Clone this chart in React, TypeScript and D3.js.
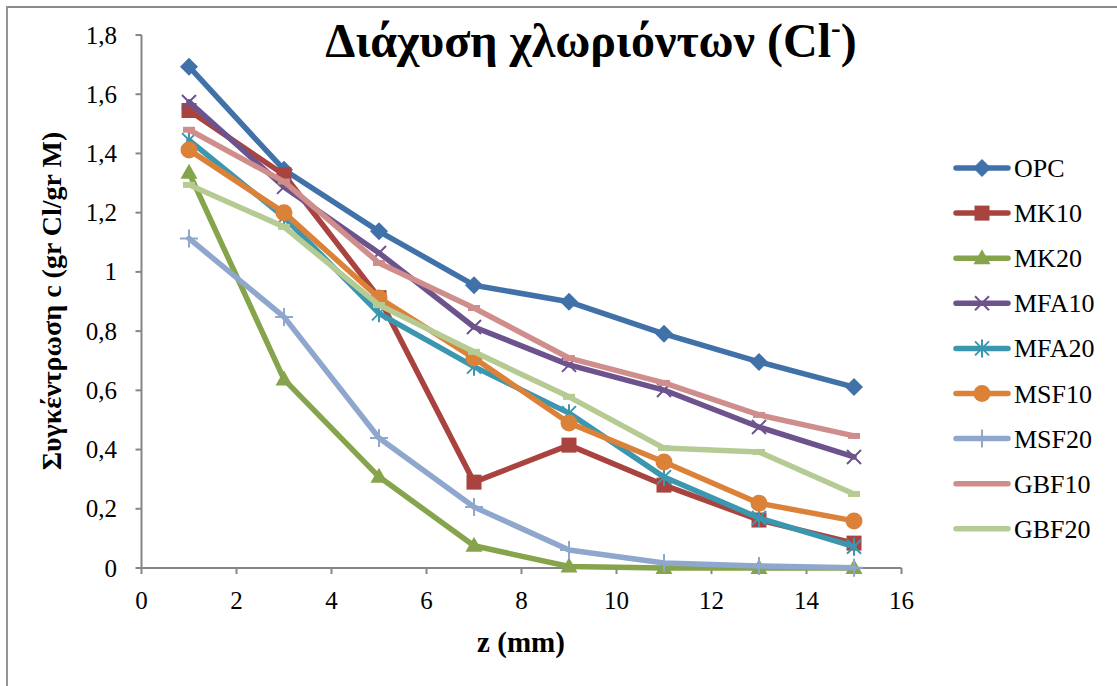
import React from 'react';
import * as d3 from 'd3';

const W = 1117;
const H = 686;
const FONT = '"Liberation Serif", "Times New Roman", serif';
const AXIS_COLOR = '#868686';

// depth z (mm)
const zValues = [1, 3, 5, 7, 9, 11, 13, 15];

const seriesNames = ['OPC', 'MK10', 'MK20', 'MFA10', 'MFA20', 'MSF10', 'MSF20', 'GBF10', 'GBF20'];
const opc = [1.693, 1.345, 1.137, 0.955, 0.899, 0.791, 0.696, 0.611];
const mk10 = [1.545, 1.328, 0.913, 0.29, 0.415, 0.28, 0.162, 0.084];
const mk20 = [1.335, 0.637, 0.308, 0.075, 0.005, 0, 0, 0];
const mfa10 = [1.574, 1.287, 1.064, 0.814, 0.686, 0.601, 0.476, 0.375];
const mfa20 = [1.445, 1.185, 0.86, 0.68, 0.523, 0.307, 0.169, 0.072];
const msf10 = [1.412, 1.2, 0.912, 0.709, 0.49, 0.358, 0.219, 0.159];
const msf20 = [1.113, 0.848, 0.439, 0.206, 0.061, 0.017, 0.007, 0.001];
const gbf10 = [1.48, 1.305, 1.03, 0.878, 0.709, 0.625, 0.517, 0.446];
const gbf20 = [1.294, 1.152, 0.888, 0.73, 0.578, 0.405, 0.392, 0.25];

const xTicks = [0, 2, 4, 6, 8, 10, 12, 14, 16];
const yTicks = [0, 0.2, 0.4, 0.6, 0.8, 1, 1.2, 1.4, 1.6, 1.8];

const COLORS = ['#4171A9', '#A9433F', '#86A44B', '#6D538D', '#3B97AF', '#DB8238', '#8FA6CD', '#CF8E8C', '#B6CB93'];
const MARKERS = ['diamond', 'square', 'triangle', 'x', 'star', 'circle', 'plus', 'dash', 'dash'];
const SERIES = [opc, mk10, mk20, mfa10, mfa20, msf10, msf20, gbf10, gbf20];

const x = d3.scaleLinear().domain([0, 16]).range([141.5, 901.5]);
const y = d3.scaleLinear().domain([0, 1.8]).range([568, 35]);

const fmt = (v: number) => String(+v.toFixed(1)).replace('.', ',');

const Marker: React.FC<{ kind: string; cx: number; cy: number; color: string }> = ({ kind, cx, cy, color }) => {
  const t = `translate(${cx},${cy})`;
  switch (kind) {
    case 'diamond':
      return <path transform={t} d="M0,-9L9,0L0,9L-9,0Z" fill={color} />;
    case 'square':
      return <rect transform={t} x={-7.5} y={-7.5} width={15} height={15} fill={color} />;
    case 'triangle':
      return <path transform={t} d="M0,-9L8.5,6L-8.5,6Z" fill={color} />;
    case 'circle':
      return <circle transform={t} r={8.5} fill={color} />;
    case 'x':
      return <path transform={t} d="M-7,-7L7,7M-7,7L7,-7" stroke={color} strokeWidth={2} fill="none" />;
    case 'star':
      return <path transform={t} d="M-7,-7L7,7M-7,7L7,-7M0,-9L0,9" stroke={color} strokeWidth={2} fill="none" />;
    case 'plus':
      return <path transform={t} d="M-9,0L9,0M0,-9L0,9" stroke={color} strokeWidth={2} fill="none" />;
    case 'dash':
      return <rect transform={t} x={-6} y={-3} width={12} height={6} fill={color} />;
    default:
      return null;
  }
};

const App: React.FC = () => {
  const line = d3.line<number>()
    .x((_, i) => x(zValues[i]))
    .y(v => y(v));

  return (
    <div style={{ position: 'absolute', left: 0, top: 0, width: W, height: H, background: '#fff' }}>
      <svg width={W} height={H} style={{ display: 'block', fontFamily: FONT }}>
        <rect x={0} y={0} width={W} height={H} fill="#fff" />
        {/* chart area border */}
        <path d={`M7,${H + 5}L7,7L${W + 5},7`} fill="none" stroke="#8a8a8a" strokeWidth={1.8} />

        {/* title */}
        <text x={591} y={57} textAnchor="middle" fontSize={48} fontWeight="bold" fill="#000">
          Διάχυση χλωριόντων (Cl<tspan fontSize={29} dy={-19}>-</tspan><tspan dy={19}>)</tspan>
        </text>

        {/* y axis */}
        <line x1={x(0)} x2={x(0)} y1={y(1.8)} y2={y(0)} stroke={AXIS_COLOR} strokeWidth={2} />
        {yTicks.map(v => (
          <g key={v}>
            <line x1={x(0) - 6} x2={x(0)} y1={y(v)} y2={y(v)} stroke={AXIS_COLOR} strokeWidth={2} />
            <text x={117} y={y(v) + 8.5} textAnchor="end" fontSize={25} fill="#000">{fmt(v)}</text>
          </g>
        ))}

        {/* x axis */}
        <line x1={x(0)} x2={x(16)} y1={y(0)} y2={y(0)} stroke={AXIS_COLOR} strokeWidth={2} />
        {xTicks.map(v => (
          <g key={v}>
            <line x1={x(v)} x2={x(v)} y1={y(0)} y2={y(0) + 6} stroke={AXIS_COLOR} strokeWidth={2} />
            <text x={x(v)} y={609} textAnchor="middle" fontSize={25} fill="#000">{fmt(v)}</text>
          </g>
        ))}

        {/* axis titles */}
        <text x={521} y={652} textAnchor="middle" fontSize={29} fontWeight="bold" fill="#000">z (mm)</text>
        <text transform="translate(61,301) rotate(-90)" textAnchor="middle" fontSize={28} fontWeight="bold" fill="#000">
          Συγκέντρωση c (gr Cl/gr M)
        </text>

        {/* series */}
        {SERIES.map((vals, si) => (
          <g key={seriesNames[si]}>
            <path d={line(vals) ?? ''} fill="none" stroke={COLORS[si]} strokeWidth={5.5} strokeLinejoin="round" strokeLinecap="round" />
            {vals.map((v, i) => (
              <Marker key={i} kind={MARKERS[si]} cx={x(zValues[i])} cy={y(v)} color={COLORS[si]} />
            ))}
          </g>
        ))}

        {/* legend */}
        {seriesNames.map((name, si) => {
          const ly = 168 + si * 45.1;
          return (
            <g key={name}>
              <line x1={956} x2={1008} y1={ly} y2={ly} stroke={COLORS[si]} strokeWidth={5.5} strokeLinecap="round" />
              {MARKERS[si] !== 'dash' && <Marker kind={MARKERS[si]} cx={982} cy={ly} color={COLORS[si]} />}
              <text x={1014} y={ly + 9} fontSize={26} fill="#000">{name}</text>
            </g>
          );
        })}
      </svg>
    </div>
  );
};

export default App;
